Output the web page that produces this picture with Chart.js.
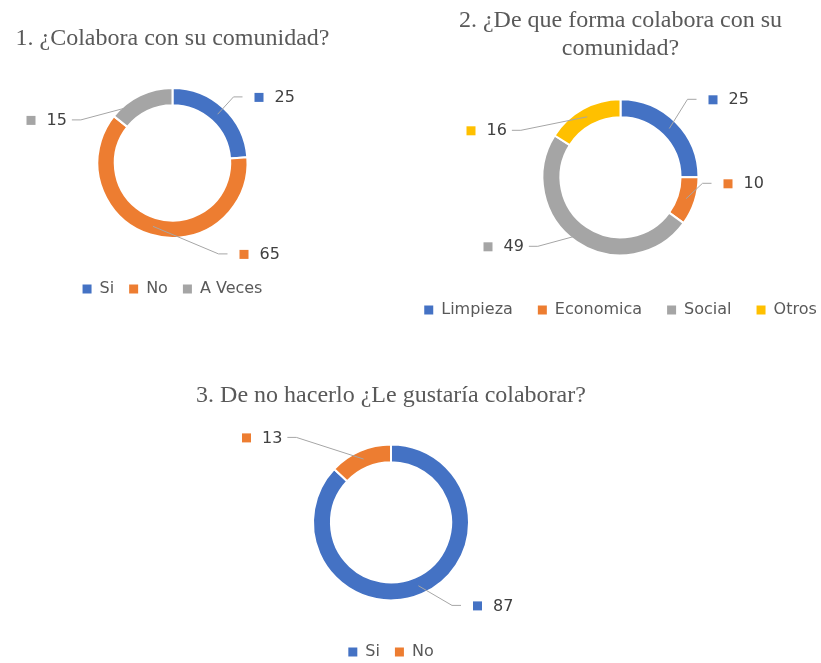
<!DOCTYPE html>
<html>
<head>
<meta charset="utf-8">
<script src="https://cdn.jsdelivr.net/npm/chart.js@4.4.1/dist/chart.umd.min.js"></script>
<style>
  html, body { margin: 0; padding: 0; background: #fff; overflow: hidden; }
  body { width: 821px; height: 663px; position: relative; }
  canvas { position: absolute; }
</style>
</head>
<body>
<canvas id="chart1" width="345" height="310" style="left:0;top:0"></canvas>
<canvas id="chart2" width="491" height="330" style="left:375px;top:0"></canvas>
<canvas id="chart3" width="422" height="300" style="left:180px;top:370px"></canvas>
<script>
// --- data ---
const q1Title = '1. ¿Colabora con su comunidad?';
const q1Labels = ['Si', 'No', 'A Veces'];
const q1Values = [25, 65, 15];

const q2Title = ['2. ¿De que forma colabora con su', 'comunidad?'];
const q2Labels = ['Limpieza', 'Economica', 'Social', 'Otros'];
const q2Values = [25, 10, 49, 16];

const q3Title = '3. De no hacerlo ¿Le gustaría colaborar?';
const q3Labels = ['Si', 'No'];
const q3Values = [87, 13];

const BLUE = '#4472C4', ORANGE = '#ED7D31', GRAY = '#A5A5A5', YELLOW = '#FFC000';

// draws the value labels with a small coloured square and a leader line to the ring
const leaderLabels = {
    id: 'leaderLabels',
    afterDatasetsDraw(chart, args, opts) {
        const ctx = chart.ctx;
        const meta = chart.getDatasetMeta(0);
        const ds = chart.data.datasets[0];
        ctx.save();
        ctx.font = '16px "DejaVu Sans"';
        ctx.textBaseline = 'middle';
        meta.data.forEach((arc, i) => {
            const p = arc.getProps(['x', 'y', 'startAngle', 'endAngle', 'innerRadius', 'outerRadius'], true);
            const mid = (p.startAngle + p.endAngle) / 2;
            const r = (p.innerRadius + p.outerRadius) / 2;
            const ax = p.x + Math.cos(mid) * r;
            const ay = p.y + Math.sin(mid) * r;
            const [dx, dy] = opts.offsets[i];
            const sx = p.x + dx, sy = p.y + dy;
            const text = String(ds.data[i]);
            const tw = ctx.measureText(text).width;
            let ex, hx;
            if (dx >= 0) {
                ex = sx - 16; hx = ex - 9;
            } else {
                ex = sx + 16 + tw + 5; hx = ex + 9;
            }
            ctx.strokeStyle = '#a6a6a6';
            ctx.lineWidth = 1;
            ctx.beginPath();
            ctx.moveTo(ax, ay);
            ctx.lineTo(hx, sy);
            ctx.lineTo(ex, sy);
            ctx.stroke();
            ctx.fillStyle = ds.backgroundColor[i];
            ctx.fillRect(sx - 4, sy - 4, 9, 9);
            ctx.fillStyle = '#404040';
            ctx.fillText(text, sx + 16, sy + 1);
        });
        ctx.restore();
    }
};

function makeDonut(id, cfg) {
    const ctx = document.getElementById(id).getContext('2d');
    return new Chart(ctx, {
        type: 'doughnut',
        data: {
            labels: cfg.labels,
            datasets: [{
                data: cfg.values,
                backgroundColor: cfg.colors,
                borderColor: '#ffffff',
                borderWidth: 2,
                radius: cfg.radius,
                cutout: '77%'
            }]
        },
        options: {
            responsive: false,
            animation: false,
            devicePixelRatio: 1,
            layout: { padding: { bottom: cfg.padBottom } },
            plugins: {
                title: {
                    display: true,
                    text: cfg.title,
                    color: '#595959',
                    font: { family: '"Liberation Serif"', size: 24, weight: 'normal' },
                    padding: { top: cfg.titleTop, bottom: cfg.titleBottom }
                },
                legend: {
                    position: 'bottom',
                    labels: {
                        color: '#595959',
                        font: { family: '"DejaVu Sans"', size: 16 },
                        boxWidth: 9,
                        boxHeight: 9,
                        padding: cfg.legendPad,
                        generateLabels: (chart) =>
                            Chart.overrides.doughnut.plugins.legend.labels.generateLabels(chart)
                                .map(l => ({ ...l, lineWidth: 0 }))
                    }
                },
                tooltip: { enabled: false },
                leaderLabels: { offsets: cfg.offsets }
            }
        },
        plugins: [leaderLabels]
    });
}

makeDonut('chart1', {
    title: q1Title, labels: q1Labels, values: q1Values,
    colors: [BLUE, ORANGE, GRAY],
    radius: 75, titleTop: 24, titleBottom: 7, legendPad: 15, padBottom: 3,
    offsets: [[86, -66], [71, 91], [-142, -43]]
});

makeDonut('chart2', {
    title: q2Title, labels: q2Labels, values: q2Values,
    colors: [BLUE, ORANGE, GRAY, YELLOW],
    radius: 78, titleTop: 6, titleBottom: 14, legendPad: 25, padBottom: 2,
    offsets: [[92, -78], [107, 6], [-133, 69], [-150, -47]]
});

makeDonut('chart3', {
    title: q3Title, labels: q3Labels, values: q3Values,
    colors: [BLUE, ORANGE],
    radius: 78, titleTop: 11, titleBottom: 6, legendPad: 15, padBottom: 0,
    offsets: [[86, 83], [-145, -85]]
});
</script>
</body>
</html>
